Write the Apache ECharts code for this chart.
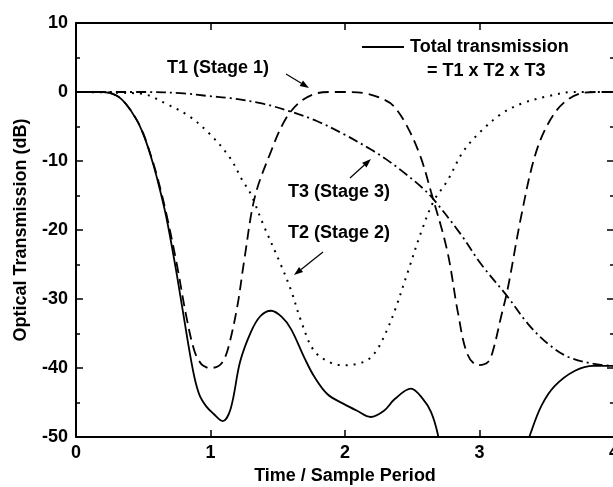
<!DOCTYPE html>
<html>
<head>
<meta charset="utf-8">
<script src="https://cdn.jsdelivr.net/npm/echarts@6/dist/echarts.min.js"></script>
<style>html,body{margin:0;padding:0;background:#fff;}#c{width:613px;height:487px;}</style>
</head>
<body>
<div id="c"></div>
<script>
// T1 (Stage 1) - dashed
const t1X = [0,0.2,0.3,0.37,0.45,0.5,0.55,0.6,0.67,0.75,0.82,0.88,0.93,0.97,1.0,1.06,1.1,1.14,1.2,1.25,1.33,1.45,1.55,1.65,1.77,1.9,2.0,2.15,2.28,2.36,2.46,2.56,2.64,2.76,2.84,2.91,2.99,3.06,3.1,3.16,3.21,3.31,3.41,3.51,3.63,3.78,3.9,4.0];
const t1Y = [0,0,-0.5,-1.7,-4,-6,-8.8,-12,-17.5,-25,-32.5,-37.5,-39.4,-39.9,-40,-39.7,-38.8,-36.5,-31,-24.5,-15.2,-8.6,-4.2,-1.7,-0.3,0,0,-0.2,-1.0,-2,-4.9,-9.3,-14.5,-23,-32,-38,-39.6,-39.2,-37.5,-32.6,-28.5,-18,-9.4,-4.6,-1.5,-0.1,0,0];
// T2 (Stage 2) - dotted
const t2X = [0,0.3,0.5,0.67,0.84,0.99,1.14,1.24,1.3,1.39,1.52,1.6,1.67,1.77,1.9,2.0,2.09,2.17,2.24,2.31,2.37,2.47,2.57,2.66,2.76,2.88,3.01,3.16,3.31,3.51,3.7,4.0];
const t2Y = [0,-0.1,-0.3,-1.7,-3.5,-6,-9.4,-12.9,-14.8,-19.1,-24.9,-28.8,-33,-37.5,-39.3,-39.6,-39.4,-38.8,-37.3,-34.6,-31.7,-25.9,-20.1,-15.8,-12.9,-8.6,-5.7,-3.2,-1.7,-0.6,0,0];
// T3 (Stage 3) - dash-dot
const t3X = [0,0.5,0.8,0.99,1.15,1.39,1.59,1.79,1.99,2.19,2.31,2.42,2.57,2.66,2.86,3.01,3.21,3.36,3.51,3.66,3.85,4.0];
const t3Y = [0,0,-0.2,-0.6,-0.9,-1.7,-2.8,-4.2,-6.1,-8.3,-9.8,-11.4,-13.8,-15.6,-20.6,-24.9,-29.7,-33.6,-36.5,-38.4,-39.4,-39.7];
// Total transmission - solid
const totX = [0,0.2,0.3,0.37,0.45,0.5,0.55,0.6,0.67,0.75,0.83,0.88,0.92,0.97,1.02,1.09,1.15,1.22,1.3,1.37,1.45,1.53,1.6,1.7,1.77,1.87,1.99,2.09,2.19,2.29,2.37,2.49,2.58,2.64,2.69,2.75,2.85,3.0,3.15,3.3,3.37,3.46,3.56,3.71,3.85,4.0];
const totY = [0,0,-0.5,-1.7,-4,-6.1,-8.9,-12.3,-18,-26.5,-36,-41.3,-44,-45.6,-46.6,-47.7,-45.9,-39.1,-34.8,-32.5,-31.7,-32.6,-34.4,-38.6,-41.2,-43.8,-45.2,-46.2,-47.1,-46.2,-44.5,-43,-44.5,-46.4,-49.6,-56,-68,-70,-62,-54,-50,-45.5,-42.6,-40.4,-39.7,-39.7];
const xTicks = [0,1,2,3,4];
const yTicks = [10,0,-10,-20,-30,-40,-50];

const pair = (xs, ys) => xs.map((x, i) => [x, ys[i]]);
const FONT = '"Liberation Sans", Arial, Helvetica, sans-serif';
const lab = {color:'#000', fontWeight:'bold', fontSize:18, fontFamily:FONT};

function arrow(x1,y1,x2,y2){
  const a = Math.atan2(y2-y1, x2-x1), L = 9, W = 3.2;
  const bx = x2 - L*Math.cos(a), by = y2 - L*Math.sin(a);
  const px = -Math.sin(a)*W, py = Math.cos(a)*W;
  return [
    {type:'line', shape:{x1:x1,y1:y1,x2:bx,y2:by}, style:{stroke:'#000', lineWidth:1.2}},
    {type:'polygon', shape:{points:[[x2,y2],[bx+px,by+py],[bx-px,by-py]]}, style:{fill:'#000'}}
  ];
}
function txt(t,x,y){
  return {type:'text', x:x, y:y, style:{text:t, font:'bold 18px '+FONT, fill:'#000', textAlign:'left', textVerticalAlign:'middle'}};
}

const axisCommon = {
  axisLine:{show:true, onZero:false, lineStyle:{color:'#000', width:2}},
  splitLine:{show:false}
};

const chart = echarts.init(document.getElementById('c'), null, {renderer:'canvas'});
chart.setOption({
  animation:false,
  backgroundColor:'#fff',
  grid:{left:76, right:-1, top:23, bottom:50, outerBoundsMode:'none', containLabel:false},
  xAxis:[
    Object.assign({type:'value', min:0, max:4, interval:1, position:'bottom',
      axisTick:{show:true, inside:true, length:7, lineStyle:{color:'#000', width:1.5}},
      axisLabel:Object.assign({margin:7, formatter:v => xTicks.includes(v) ? String(v) : ''}, lab),
      name:'Time / Sample Period', nameLocation:'middle', nameGap:30, nameTextStyle:lab}, axisCommon),
    Object.assign({type:'value', min:0, max:4, interval:1, position:'top',
      axisTick:{show:true, inside:true, length:7, lineStyle:{color:'#000', width:1.5}},
      axisLabel:{show:false}}, axisCommon)
  ],
  yAxis:[
    Object.assign({type:'value', min:-50, max:10, interval:10, position:'left',
      axisTick:{show:true, inside:true, length:7, lineStyle:{color:'#000', width:1.5}},
      minorTick:{show:true, splitNumber:2, length:4, lineStyle:{color:'#000', width:1.5}},
      axisLabel:Object.assign({margin:8, formatter:v => yTicks.includes(v) ? String(v) : ''}, lab),
      name:'Optical Transmission (dB)', nameLocation:'middle', nameGap:46, nameTextStyle:lab}, axisCommon),
    Object.assign({type:'value', min:-50, max:10, interval:10, position:'right',
      axisTick:{show:true, inside:true, length:7, lineStyle:{color:'#000', width:1.5}},
      minorTick:{show:true, splitNumber:2, length:4, lineStyle:{color:'#000', width:1.5}},
      axisLabel:{show:false}}, axisCommon)
  ],
  series:[
    {type:'line', name:'T1', data:pair(t1X,t1Y), showSymbol:false, smooth:0.35,
      lineStyle:{color:'#000', width:1.8, type:[11,6]}},
    {type:'line', name:'T2', data:pair(t2X,t2Y), showSymbol:false, smooth:0.35,
      lineStyle:{color:'#000', width:2, type:[2,6]}},
    {type:'line', name:'T3', data:pair(t3X,t3Y), showSymbol:false, smooth:0.35,
      lineStyle:{color:'#000', width:1.8, type:[10,4,2,4]}},
    {type:'line', name:'Total', data:pair(totX,totY), showSymbol:false, smooth:0.35, clip:true,
      lineStyle:{color:'#000', width:1.8}}
  ],
  graphic:[].concat(
    [txt('T1 (Stage 1)',167,68), txt('Total transmission',410,47), txt('= T1 x T2 x T3',427,71),
     txt('T3 (Stage 3)',288,192), txt('T2 (Stage 2)',288,233),
     {type:'line', shape:{x1:362,y1:47,x2:404,y2:47}, style:{stroke:'#000', lineWidth:2}}],
    arrow(286,74,309,88), arrow(350,178,371,159), arrow(323,252,294,275)
  )
});
</script>
</body>
</html>
